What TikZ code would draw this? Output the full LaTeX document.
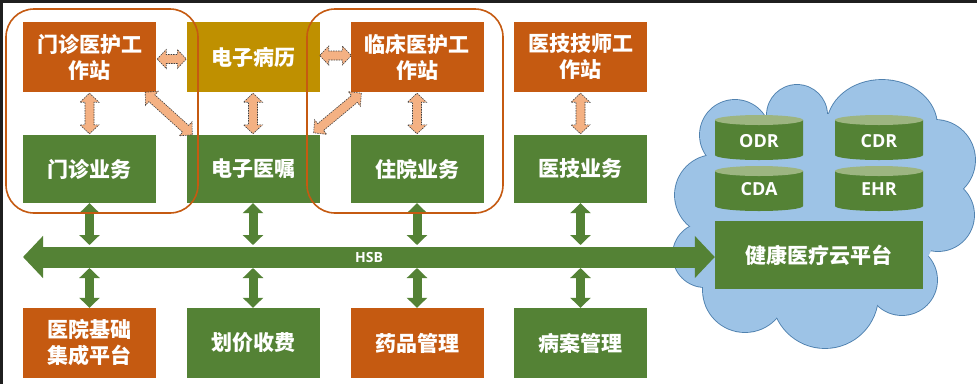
\documentclass[tikz,border=0pt]{standalone}
\usepackage{fontspec}
\newfontfamily\cjk{Noto Sans CJK SC}
\newfontfamily\lat{Open Sans}
\usetikzlibrary{arrows.meta,calc}
\definecolor{org}{HTML}{C55A11}
\definecolor{olv}{HTML}{BF9000}
\definecolor{grn}{HTML}{548235}
\definecolor{ctop}{HTML}{9DB581}
\definecolor{cloudfill}{HTML}{9DC3E6}
\definecolor{cloudedge}{HTML}{4F81AF}
\definecolor{sal}{HTML}{F4B183}
\definecolor{salline}{HTML}{404040}
\newcommand\sarrow[2]{%
\draw[salarrow] let \p1=(#1), \p2=(#2), \n1={atan2(\y2-\y1,\x2-\x1)} in
 (\p1) -- ($(\p1)+(\n1:9pt)+(\n1+90:9.5pt)$) -- ($(\p1)+(\n1:9pt)+(\n1+90:4.5pt)$)
 -- ($(\p2)+(\n1+180:9pt)+(\n1+90:4.5pt)$) -- ($(\p2)+(\n1+180:9pt)+(\n1+90:9.5pt)$)
 -- (\p2) -- ($(\p2)+(\n1+180:9pt)+(\n1-90:9.5pt)$) -- ($(\p2)+(\n1+180:9pt)+(\n1-90:4.5pt)$)
 -- ($(\p1)+(\n1:9pt)+(\n1-90:4.5pt)$) -- ($(\p1)+(\n1:9pt)+(\n1-90:9.5pt)$) -- cycle;}
\begin{document}
\begin{tikzpicture}[x=1pt,y=-1pt,
  box/.style={minimum width=133pt, minimum height=70pt, inner sep=0pt, text=white,
    font=\cjk\bfseries\fontsize{21}{26}\selectfont, align=center},
  cyltext/.style={text=white, font=\lat\bfseries\fontsize{18}{20}\selectfont, inner sep=0pt},
  salarrow/.style={fill=sal, draw=salline, line width=0.6pt, dash pattern=on 1.5pt off 1pt},
  garr/.style={draw=grn, line width=9pt, {Triangle[width=20pt,length=10pt]}-{Triangle[width=20pt,length=10pt]}},
  frame/.style={draw=org, line width=1.6pt, rounded corners=28pt}]
\useasboundingbox (0,0) rectangle (977,384);
\fill[white] (0,0) rectangle (977,384);
% cloud: outlined puffs, then filled over so only the outer edge stays
\def\puffs{735/135/35/35, 797/115/30/30, 882/126/55/46, 935/160/40/40, 938/215/36/36,
  902/280/35/35, 825/295/53/53, 745/290/42/42, 705/255/32/32, 715/195/40/40}
\foreach \x/\y/\rx/\ry in \puffs{
  \draw[cloudedge, line width=1.8pt] (\x,\y) ellipse[x radius=\rx pt, y radius=\ry pt];}
\foreach \x/\y/\rx/\ry in \puffs{
  \fill[cloudfill] (\x,\y) ellipse[x radius=\rx pt, y radius=\ry pt];}
\fill[cloudfill] (824,214) ellipse[x radius=115pt, y radius=100pt];
% cylinders
\foreach \cx/\ty in {759/120, 879/120, 759/171, 879/171}{
  \fill[grn] (\cx-44,\ty) -- (\cx-44,\ty+35) arc[start angle=180,end angle=360,x radius=44pt,y radius=5pt] -- (\cx+44,\ty) -- cycle;
  \fill[ctop] (\cx,\ty) ellipse[x radius=44pt,y radius=5pt];
}
\node[cyltext] (odr) at (759,141) {ODR};
\node[cyltext] (cdr) at (879,141) {CDR};
\node[cyltext] (cda) at (759,189) {CDA};
\node[cyltext] (ehr) at (879,189) {EHR};
% boxes
\node[box,fill=org] (w1) at (89.5,57) {门诊医护工\\作站};
\node[box,fill=olv] (emr) at (253,57) {电子病历};
\node[box,fill=org] (w3) at (417,57) {临床医护工\\作站};
\node[box,fill=org] (w4) at (580.5,57) {医技技师工\\作站};
\node[box,fill=grn,minimum height=68pt] (m1) at (89.5,169) {门诊业务};
\node[box,fill=grn,minimum height=68pt] (m2) at (253,169) {电子医嘱};
\node[box,fill=grn,minimum height=68pt] (m3) at (417,169) {住院业务};
\node[box,fill=grn,minimum height=68pt] (m4) at (580.5,169) {医技业务};
\node[box,fill=org] (b1) at (89.5,343) {医院基础\\集成平台};
\node[box,fill=grn] (b2) at (253,343) {划价收费};
\node[box,fill=org] (b3) at (417,343) {药品管理};
\node[box,fill=grn] (b4) at (580.5,343) {病案管理};
\node[box,fill=grn,minimum width=208pt,minimum height=68pt] (plat) at (819,255) {健康医疗云平台};
% bus
\coordinate (busL) at (23,257);
\coordinate (busR) at (plat.west |- busL);
\coordinate (busT) at (0,245);
\coordinate (busB) at (0,268);
\draw[draw=grn, line width=21pt, {Triangle[width=41pt,length=20pt]}-{Triangle[width=41pt,length=20pt]}] (busL) -- (busR);
\node[text=white, font=\lat\bfseries\fontsize{14}{16}\selectfont, inner sep=0pt] (hsb) at (369,257) {HSB};
% green arrows
\foreach \n in {m1,m2,m3,m4}{ \draw[garr] (\n.south) -- (\n.south |- busT); }
\foreach \n in {b1,b2,b3,b4}{ \draw[garr] (\n.north |- busB) -- (\n.north); }
% salmon arrows
\sarrow{$(w1.east)+(1,2)$}{$(emr.west)+(0,2)$}
\sarrow{$(emr.east)+(0,-1.5)$}{$(w3.west)+(1,-1.5)$}
\sarrow{$(w1.south)+(0,1)$}{$(m1.north)+(0,-1)$}
\sarrow{$(emr.south)+(0,1)$}{$(m2.north)+(0,-1)$}
\sarrow{$(w3.south)+(0,1)$}{$(m3.north)+(0,-1)$}
\sarrow{$(w4.south)+(0,1)$}{$(m4.north)+(0,-1)$}
\sarrow{$(w1.south east)+(-11,0)$}{$(m2.north west)+(6,0)$}
\sarrow{$(w3.south west)+(11,1)$}{$(m2.north east)+(-6,-2)$}
% frames
\draw[frame] (6,9) rectangle (198,213);
\draw[frame] (307,9) rectangle (503,213);
% dark edges
\fill[black!88] (0,0) rectangle (977,3);
\fill[black!88] (0,0) rectangle (3,384);
\end{tikzpicture}
\end{document}
